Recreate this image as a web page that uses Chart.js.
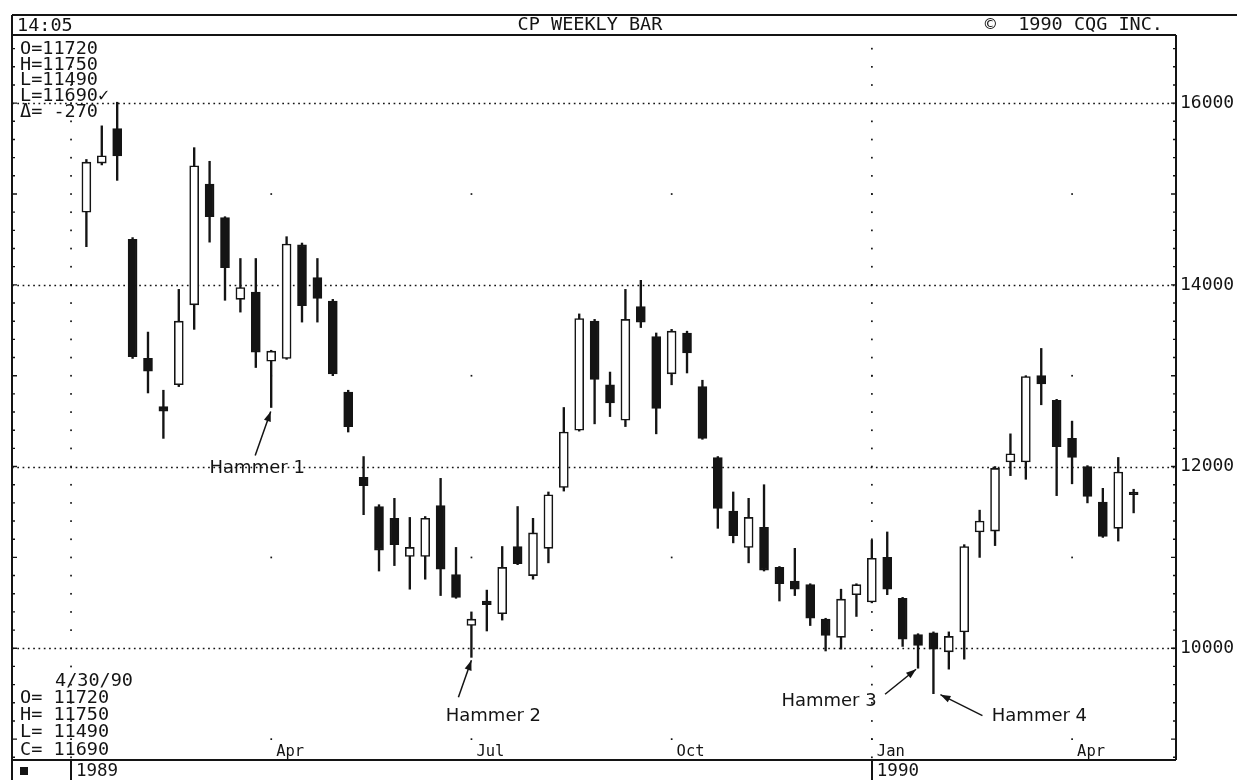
<!DOCTYPE html>
<html>
<head>
<meta charset="utf-8">
<script src="https://cdn.jsdelivr.net/npm/chart.js@4.4.0/dist/chart.umd.min.js"></script>
<style>
html, body { margin: 0; padding: 0; background: #fff; }
canvas { display: block; }
</style>
</head>
<body>
<canvas id="chart" width="1237" height="780"></canvas>
<script>
// weekly bars, week 0 = first week of Jan 1989
const weeks = [1, 2, 3, 4, 5, 6, 7, 8, 9, 10, 11, 12, 13, 14, 15, 16, 17, 18, 19, 20,
    21, 22, 23, 24, 25, 26, 27, 28, 29, 30, 31, 32, 33, 34, 35, 36, 37, 38, 39, 40,
    41, 42, 43, 44, 45, 46, 47, 48, 49, 50, 51, 52, 53, 54, 55, 56, 57, 58, 59, 60,
    61, 62, 63, 64, 65, 66, 67, 68, 69];
const opens = [14800, 15340, 15720, 14500, 13190, 12660, 12900, 13780, 15110, 14740,
    13840, 13920, 13160, 13190, 14440, 14080, 13820, 12820, 11880, 11560,
    11430, 11010, 11010, 11570, 10810, 10250, 10520, 10380, 11120, 10800,
    11100, 11770, 12400, 13600, 12900, 12510, 13760, 13430, 13020, 13470,
    12880, 12100, 11510, 11110, 11330, 10890, 10740, 10700, 10320, 10120,
    10590, 10510, 11000, 10550, 10150, 10170, 9960, 10180, 11280, 11290,
    12050, 12050, 13000, 12730, 12310, 12000, 11610, 11320, 11720];
const highs = [15380, 15750, 16010, 14520, 13480, 12840, 13950, 15510, 15360, 14750,
    14290, 14290, 13280, 14530, 14460, 14290, 13840, 12840, 12110, 11580,
    11650, 11440, 11450, 11870, 11110, 10400, 10640, 11120, 11560, 11430,
    11720, 12650, 13680, 13620, 13040, 13950, 14050, 13470, 13510, 13490,
    12950, 12110, 11720, 11650, 11800, 10900, 11100, 10710, 10330, 10650,
    10710, 11190, 11280, 10560, 10160, 10180, 10180, 11140, 11520, 12000,
    12360, 13000, 13300, 12740, 12500, 12010, 11760, 12100, 11750];
const lows = [14420, 15320, 15150, 13190, 12810, 12310, 12880, 13510, 14470, 13830,
    13700, 13090, 12650, 13180, 13590, 13590, 13000, 12380, 11470, 10850,
    10910, 10650, 10760, 10580, 10550, 9900, 10190, 10310, 10920, 10760,
    10940, 11730, 12390, 12470, 12550, 12440, 13530, 12360, 12900, 13030,
    12300, 11320, 11160, 10940, 10850, 10520, 10580, 10250, 9970, 9990,
    10350, 10500, 10590, 10020, 9780, 9500, 9770, 9880, 11000, 11130,
    11900, 11860, 12680, 11680, 11810, 11600, 11220, 11180, 11490];
const closes = [15350, 15420, 15420, 13210, 13050, 12610, 13600, 15310, 14750, 14190,
    13970, 13260, 13270, 14450, 13770, 13850, 13020, 12440, 11790, 11080,
    11140, 11110, 11430, 10870, 10560, 10320, 10480, 10890, 10930, 11270,
    11690, 12380, 13630, 12960, 12700, 13620, 13590, 12640, 13490, 13250,
    12310, 11540, 11240, 11440, 10860, 10710, 10650, 10330, 10140, 10540,
    10700, 10990, 10650, 10100, 10030, 9990, 10130, 11120, 11400, 11980,
    12140, 12990, 12910, 12220, 12100, 11670, 11230, 11940, 11690];

const priceTicks = [10000, 12000, 14000, 16000];
const quarterWeeks = [13, 26, 39, 52, 65];
const quarterLabels = ["Apr", "Jul", "Oct", "Jan", "Apr"];
const yearWeeks = [0, 52];
const yearLabels = ["1989", "1990"];
const hammerWeeks = [13, 26, 55, 56];
const hammerLabels = ["Hammer 1", "Hammer 2", "Hammer 3", "Hammer 4"];
const topInfo = ["O=11720", "H=11750", "L=11490", "L=11690\u2713", "\u0394= -270"];
const lastInfo = ["4/30/90", "O= 11720", "H= 11750", "L= 11490", "C= 11690"];

const INK = "#141414";
const MONO = '"DejaVu Sans Mono", monospace';

// arrow / label offsets from the bar's low, in pixels
const hammerLayout = [
    { tip: [-0.5, 4], tail: [-16, 48], text: [-14, 61] },
    { tip: [0, 3], tail: [-13, 40], text: [22, 59] },
    { tip: [-2, 1], tail: [-33, 26], text: [-89, 33] },
    { tip: [7, 1], tail: [49, 22], text: [106, 23] },
];

function dot(ctx, px, py) {
    ctx.fillRect(px - 0.8, py - 0.8, 1.7, 1.7);
}

function arrow(ctx, x1, y1, x2, y2) {
    ctx.beginPath();
    ctx.moveTo(x1, y1);
    ctx.lineTo(x2, y2);
    ctx.stroke();
    const ang = Math.atan2(y2 - y1, x2 - x1);
    const len = 10, half = 3.6;
    ctx.beginPath();
    ctx.moveTo(x2, y2);
    ctx.lineTo(x2 - len * Math.cos(ang) + half * Math.sin(ang),
        y2 - len * Math.sin(ang) - half * Math.cos(ang));
    ctx.lineTo(x2 - len * Math.cos(ang) - half * Math.sin(ang),
        y2 - len * Math.sin(ang) + half * Math.cos(ang));
    ctx.closePath();
    ctx.fill();
}

const decor = {
    id: "decor",
    beforeDraw(chart) {
        const ctx = chart.ctx;
        ctx.save();
        ctx.fillStyle = "#fff";
        ctx.fillRect(0, 0, chart.width, chart.height);
        ctx.restore();
    },
    beforeDatasetsDraw(chart) {
        const { ctx, chartArea: a, scales: { x, y } } = chart;
        ctx.save();
        ctx.fillStyle = INK;
        ctx.strokeStyle = INK;
        // dotted price lines
        ctx.lineWidth = 1.7;
        ctx.setLineDash([1.7, 3.6]);
        priceTicks.forEach((v) => {
            const py = Math.round(y.getPixelForValue(v)) + 0.5;
            ctx.beginPath();
            ctx.moveTo(a.left, py);
            ctx.lineTo(a.right, py);
            ctx.stroke();
        });
        ctx.setLineDash([]);
        // year lines and minor dots, axis ticks every 200
        ctx.lineWidth = 1.4;
        for (let v = Math.ceil(y.min / 200) * 200; v <= y.max; v += 200) {
            const py = y.getPixelForValue(v);
            yearWeeks.forEach((w) => dot(ctx, x.getPixelForValue(w), py));
            if (v % 2000 === 1000) {
                quarterWeeks.forEach((w) => dot(ctx, x.getPixelForValue(w), py));
            }
            const tl = v % 1000 === 0 ? 5 : 3;
            ctx.beginPath();
            ctx.moveTo(a.left, py);
            ctx.lineTo(a.left + tl, py);
            ctx.moveTo(a.right, py);
            ctx.lineTo(a.right - tl, py);
            ctx.stroke();
        }
        ctx.restore();
    },
    afterDraw(chart) {
        const { ctx, chartArea: a, scales: { x, y } } = chart;
        const headTop = a.top - 20;
        ctx.save();
        ctx.strokeStyle = INK;
        ctx.fillStyle = INK;
        ctx.lineWidth = 2;
        ctx.beginPath();
        ctx.moveTo(a.left, headTop);
        ctx.lineTo(chart.width, headTop);
        ctx.moveTo(a.left, a.top);
        ctx.lineTo(a.right, a.top);
        ctx.moveTo(a.left, headTop);
        ctx.lineTo(a.left, chart.height);
        ctx.moveTo(a.right, a.top);
        ctx.lineTo(a.right, a.bottom);
        ctx.moveTo(a.left, a.bottom);
        ctx.lineTo(a.right, a.bottom);
        yearWeeks.forEach((w) => {
            const px = Math.round(x.getPixelForValue(w));
            ctx.moveTo(px, a.bottom);
            ctx.lineTo(px, chart.height);
        });
        ctx.stroke();

        // header
        ctx.textBaseline = "middle";
        ctx.font = "18.5px " + MONO;
        ctx.textAlign = "left";
        ctx.fillText("14:05", a.left + 5, headTop + 11);
        ctx.textAlign = "center";
        ctx.fillText("CP WEEKLY BAR", (a.left + a.right) / 2 - 4, headTop + 10);
        ctx.textAlign = "right";
        ctx.fillText("\u00a9  1990 CQG INC.", a.right - 13, headTop + 10);

        // info blocks
        ctx.textAlign = "left";
        topInfo.forEach((t, i) => ctx.fillText(t, a.left + 8, a.top + 14 + i * 15.7));
        lastInfo.forEach((t, i) => {
            ctx.fillText(t, a.left + (i === 0 ? 43 : 8), 681 + i * 17.2);
        });

        // month labels
        ctx.font = "15.5px " + MONO;
        quarterWeeks.forEach((w, i) => {
            ctx.fillText(quarterLabels[i], x.getPixelForValue(w) + 5, a.bottom - 8);
        });
        // year row
        ctx.font = "17.5px " + MONO;
        yearWeeks.forEach((w, i) => {
            ctx.fillText(yearLabels[i], x.getPixelForValue(w) + 5, a.bottom + 11);
        });
        ctx.fillRect(a.left + 8, a.bottom + 7, 8, 8);

        // hammer notes
        ctx.lineWidth = 1.5;
        ctx.font = '18px "DejaVu Sans", sans-serif';
        ctx.textAlign = "center";
        hammerWeeks.forEach((w, i) => {
            const idx = weeks.indexOf(w);
            const bx = x.getPixelForValue(w);
            const by = y.getPixelForValue(lows[idx]);
            const L = hammerLayout[i];
            arrow(ctx, bx + L.tail[0], by + L.tail[1], bx + L.tip[0], by + L.tip[1]);
            ctx.fillText(hammerLabels[i], bx + L.text[0], by + L.text[1]);
        });
        ctx.restore();
    },
};

new Chart(document.getElementById("chart"), {
    type: "bar",
    data: {
        datasets: [
            {
                label: "body",
                data: weeks.map((w, i) => ({ x: w, y: [opens[i], closes[i]] })),
                backgroundColor: weeks.map((w, i) => (closes[i] >= opens[i] ? "#fff" : INK)),
                borderColor: INK,
                borderWidth: 1.6,
                borderSkipped: false,
                barThickness: 9,
                minBarLength: 2,
                grouped: false,
            },
            {
                label: "wick",
                data: weeks.map((w, i) => ({ x: w, y: [lows[i], highs[i]] })),
                backgroundColor: INK,
                borderWidth: 0,
                barThickness: 1.7,
                grouped: false,
            },
        ],
    },
    options: {
        responsive: false,
        animation: false,
        layout: { padding: { left: 12, top: 35, bottom: 20, right: 0 } },
        plugins: { legend: { display: false }, tooltip: { enabled: false } },
        scales: {
            x: {
                type: "linear",
                min: -3.83,
                max: 71.75,
                offset: false,
                display: false,
            },
            y: {
                position: "right",
                min: 8770,
                max: 16750,
                grid: { display: false, drawTicks: false, tickLength: 0 },
                border: { display: false },
                afterBuildTicks: (scale) => {
                    scale.ticks = priceTicks.map((v) => ({ value: v }));
                },
                afterFit: (scale) => {
                    scale.width = 61;
                },
                ticks: {
                    padding: 4,
                    color: INK,
                    font: { family: MONO, size: 18 },
                    callback: (v) => String(v),
                },
            },
        },
    },
    plugins: [decor],
});
</script>
</body>
</html>
